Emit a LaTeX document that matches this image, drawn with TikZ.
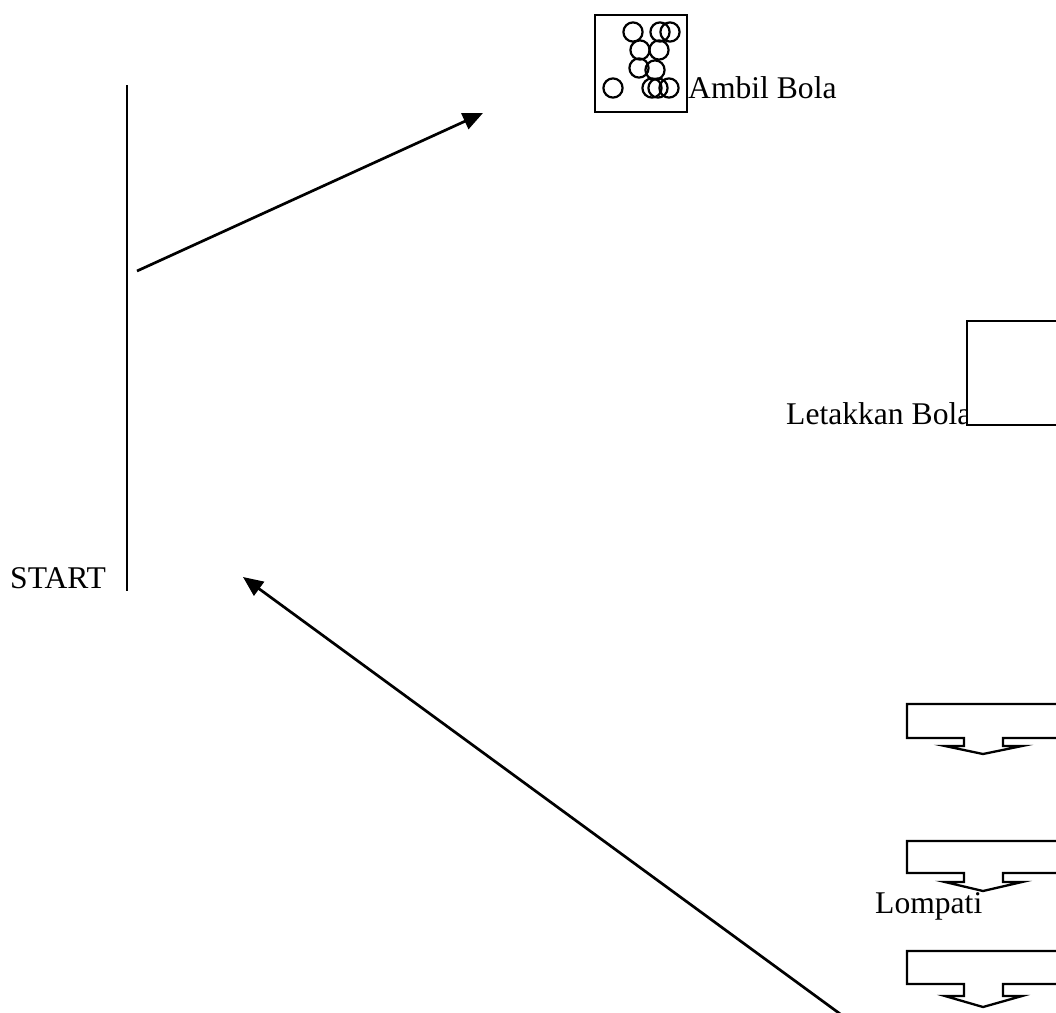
\documentclass[tikz,border=0pt]{standalone}
\usepackage{fontspec}
\setmainfont{Liberation Serif}
\usepackage{tikz}
\usetikzlibrary{arrows.meta}
\definecolor{inkmain}{HTML}{000000}
\tikzset{every node/.append style={font=\fontsize{31.6}{37}\selectfont,inner sep=0pt}}

\begin{document}
\begin{tikzpicture}[x=1pt,y=-1pt,>={Triangle[length=20pt,width=17pt]}]
  \useasboundingbox (0,0) rectangle (1056,1012);
  \clip (0,0) rectangle (1056,1012);
  % start post
  \coordinate (posttop) at (127,85);
  \coordinate (postbot) at (127,591);
  \draw[inkmain,line width=2.3pt] (posttop)--(postbot);
  \node[anchor=base west] (start) at (10,588) {START};
  % basket of balls
  \draw[inkmain,line width=2.3pt] (595,15) rectangle (687,112);
  \foreach \cx/\cy in {633/32,660/32,670/32,640/50,659/50,639/68,655/70,
                       613/88,652/88,658/88,669/88}
    \draw[inkmain,line width=2.2pt] (\cx,\cy) circle (9.6pt);
  \node[anchor=base west] (ambil) at (688,98) {Ambil Bola};
  % drop box
  \node[anchor=base west] (letak) at (786,424) {Letakkan Bola};
  \draw[inkmain,line width=2.3pt,fill=white] (967,321) rectangle (1080,425);
  % jump arrows
  \foreach \t/\b/\s/\p in {704/738/746/754, 841/873/882/891, 951/984/996/1007}
    \draw[inkmain,line width=2.3pt,line join=miter,fill=white]
      (1080,\t)--(907,\t)--(907,\b)--(964,\b)--(964,\s)--(945,\s)
      --(983,\p)--(1022,\s)--(1003,\s)--(1003,\b)--(1080,\b);
  \node[anchor=base west] (lompat) at (875,913) {Lompati};
  % connectors
  \coordinate (pickfrom) at (137,271);
  \coordinate (pickto) at (483,113);
  \coordinate (backfrom) at (843,1016);
  \coordinate (backto) at (243,577);
  \draw[->,inkmain,line width=2.7pt] (pickfrom)--(pickto);
  \draw[->,inkmain,line width=2.7pt] (backfrom)--(backto);
\end{tikzpicture}
\end{document}
